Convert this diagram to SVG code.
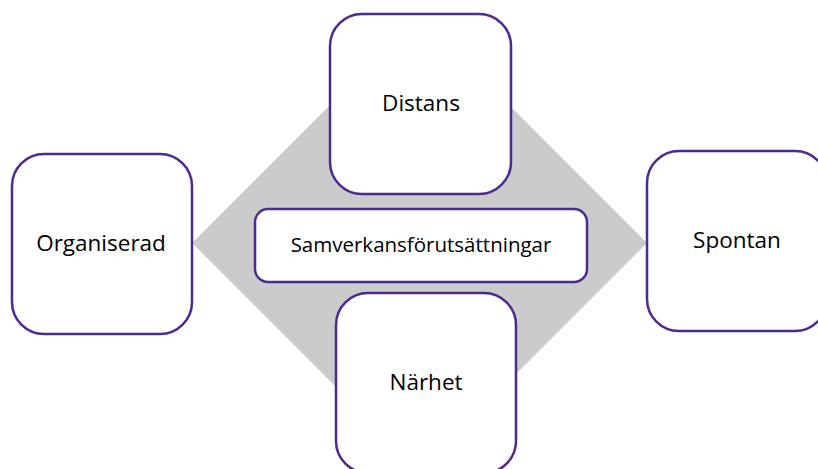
<svg xmlns="http://www.w3.org/2000/svg" width="818" height="469" viewBox="0 0 818 469">
<style>
.box{fill:#fff;stroke:#4e2a8e;stroke-width:2.5}
.lbl{font-family:"Open Sans","Noto Sans",sans-serif;font-size:22.5px;fill:#000;text-anchor:middle}
.small{font-size:20.5px}
</style>
<rect width="818" height="469" fill="#fff"/>
<g id="connectors">
<polygon points="192,243 419.5,15.5 647,243 419.5,470.5" fill="#cbcbcb"/>
</g>
<g id="distans"><rect class="box" x="330" y="14" width="181" height="180" rx="32"/><text class="lbl" x="421" y="111">Distans</text></g>
<g id="organiserad"><rect class="box" x="12" y="154" width="180" height="180" rx="32"/><text class="lbl" x="101" y="251">Organiserad</text></g>
<g id="spontan"><rect class="box" x="647" y="151" width="180" height="180" rx="32"/><text class="lbl" x="737" y="248">Spontan</text></g>
<g id="narhet"><rect class="box" x="336" y="293" width="180" height="180" rx="32"/><text class="lbl" x="426" y="390">Närhet</text></g>
<g id="samverkan"><rect class="box" x="255" y="209" width="332" height="73" rx="13"/><text class="lbl small" x="421" y="252">Samverkansförutsättningar</text></g>
</svg>
